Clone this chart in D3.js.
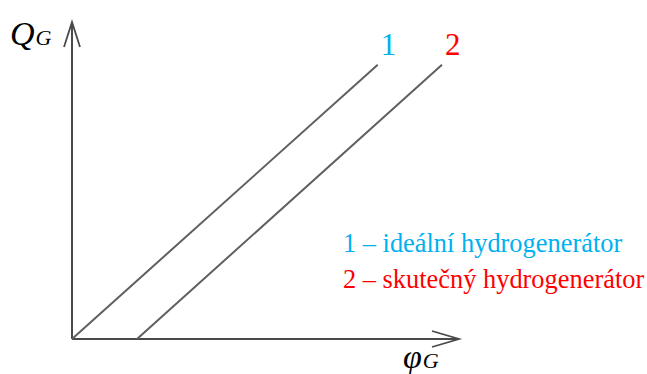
<!DOCTYPE html>
<html>
<head>
<meta charset="utf-8">
<script src="https://cdn.jsdelivr.net/npm/d3@7"></script>
<style>
  html, body { margin: 0; padding: 0; background: #fff; }
  svg { display: block; }
</style>
</head>
<body>
<svg id="chart" width="647" height="374"></svg>
<script>
// Characteristic lines Q_G = f(phi_G), arbitrary units
const seriesNames = ["1", "2"];
const seriesColors = ["#00B0F0", "#FF0000"];
const line1 = [[0, 0], [79, 86.5]];      // ideal hydrogenerator
const line2 = [[16.8, 0], [95.6, 86.5]]; // real hydrogenerator
const legendLabels = ["1 – ideální hydrogenerátor", "2 – skutečný hydrogenerátor"];

const FONT = "Liberation Serif";

const svg = d3.select("#chart");
const x = d3.scaleLinear().domain([0, 100]).range([72, 459]);
const y = d3.scaleLinear().domain([0, 100]).range([339, 22]);

const axisColor = "#4a4a4a";
const lineColor = "#5f5f5f";

// axes
svg.append("line").attr("x1", x(0)).attr("y1", y(0)).attr("x2", x(0)).attr("y2", y(100))
  .attr("stroke", axisColor).attr("stroke-width", 2);
svg.append("line").attr("x1", x(0)).attr("y1", y(0)).attr("x2", x(100)).attr("y2", y(0))
  .attr("stroke", axisColor).attr("stroke-width", 2);

// open arrowheads
svg.append("path")
  .attr("d", `M${x(0) - 8},${y(100) + 25} L${x(0)},${y(100)} L${x(0) + 8},${y(100) + 25}`)
  .attr("fill", "none").attr("stroke", axisColor).attr("stroke-width", 1.8);
svg.append("path")
  .attr("d", `M${x(100) - 27},${y(0) - 8} L${x(100)},${y(0)} L${x(100) - 27},${y(0) + 8}`)
  .attr("fill", "none").attr("stroke", axisColor).attr("stroke-width", 1.8);

// characteristic lines
const gen = d3.line().x(d => x(d[0])).y(d => y(d[1]));
[line1, line2].forEach(d => {
  svg.append("path").attr("d", gen(d)).attr("fill", "none")
    .attr("stroke", lineColor).attr("stroke-width", 2);
});

// line numbers
[line1, line2].forEach((d, i) => {
  svg.append("text")
    .attr("x", x(d[1][0]) + 3).attr("y", y(d[1][1]) - 10)
    .attr("font-family", FONT)
    .attr("font-size", 31).attr("fill", seriesColors[i])
    .text(seriesNames[i]);
});

// axis titles
const yt = svg.append("text").attr("x", 10).attr("y", 45)
  .attr("font-family", FONT).attr("font-style", "italic");
yt.append("tspan").attr("font-size", 34).text("Q");
yt.append("tspan").attr("font-size", 22).attr("dx", 1).text("G");

const xt = svg.append("text").attr("x", 403).attr("y", 368)
  .attr("font-family", FONT).attr("font-style", "italic");
xt.append("tspan").attr("font-size", 34).text("φ");
xt.append("tspan").attr("font-size", 22).attr("dx", 1).text("G");

// legend
legendLabels.forEach((t, i) => {
  svg.append("text").attr("x", 343).attr("y", 252 + i * 36)
    .attr("font-family", FONT)
    .attr("font-size", 26.4).attr("fill", seriesColors[i]).text(t);
});
</script>
</body>
</html>
